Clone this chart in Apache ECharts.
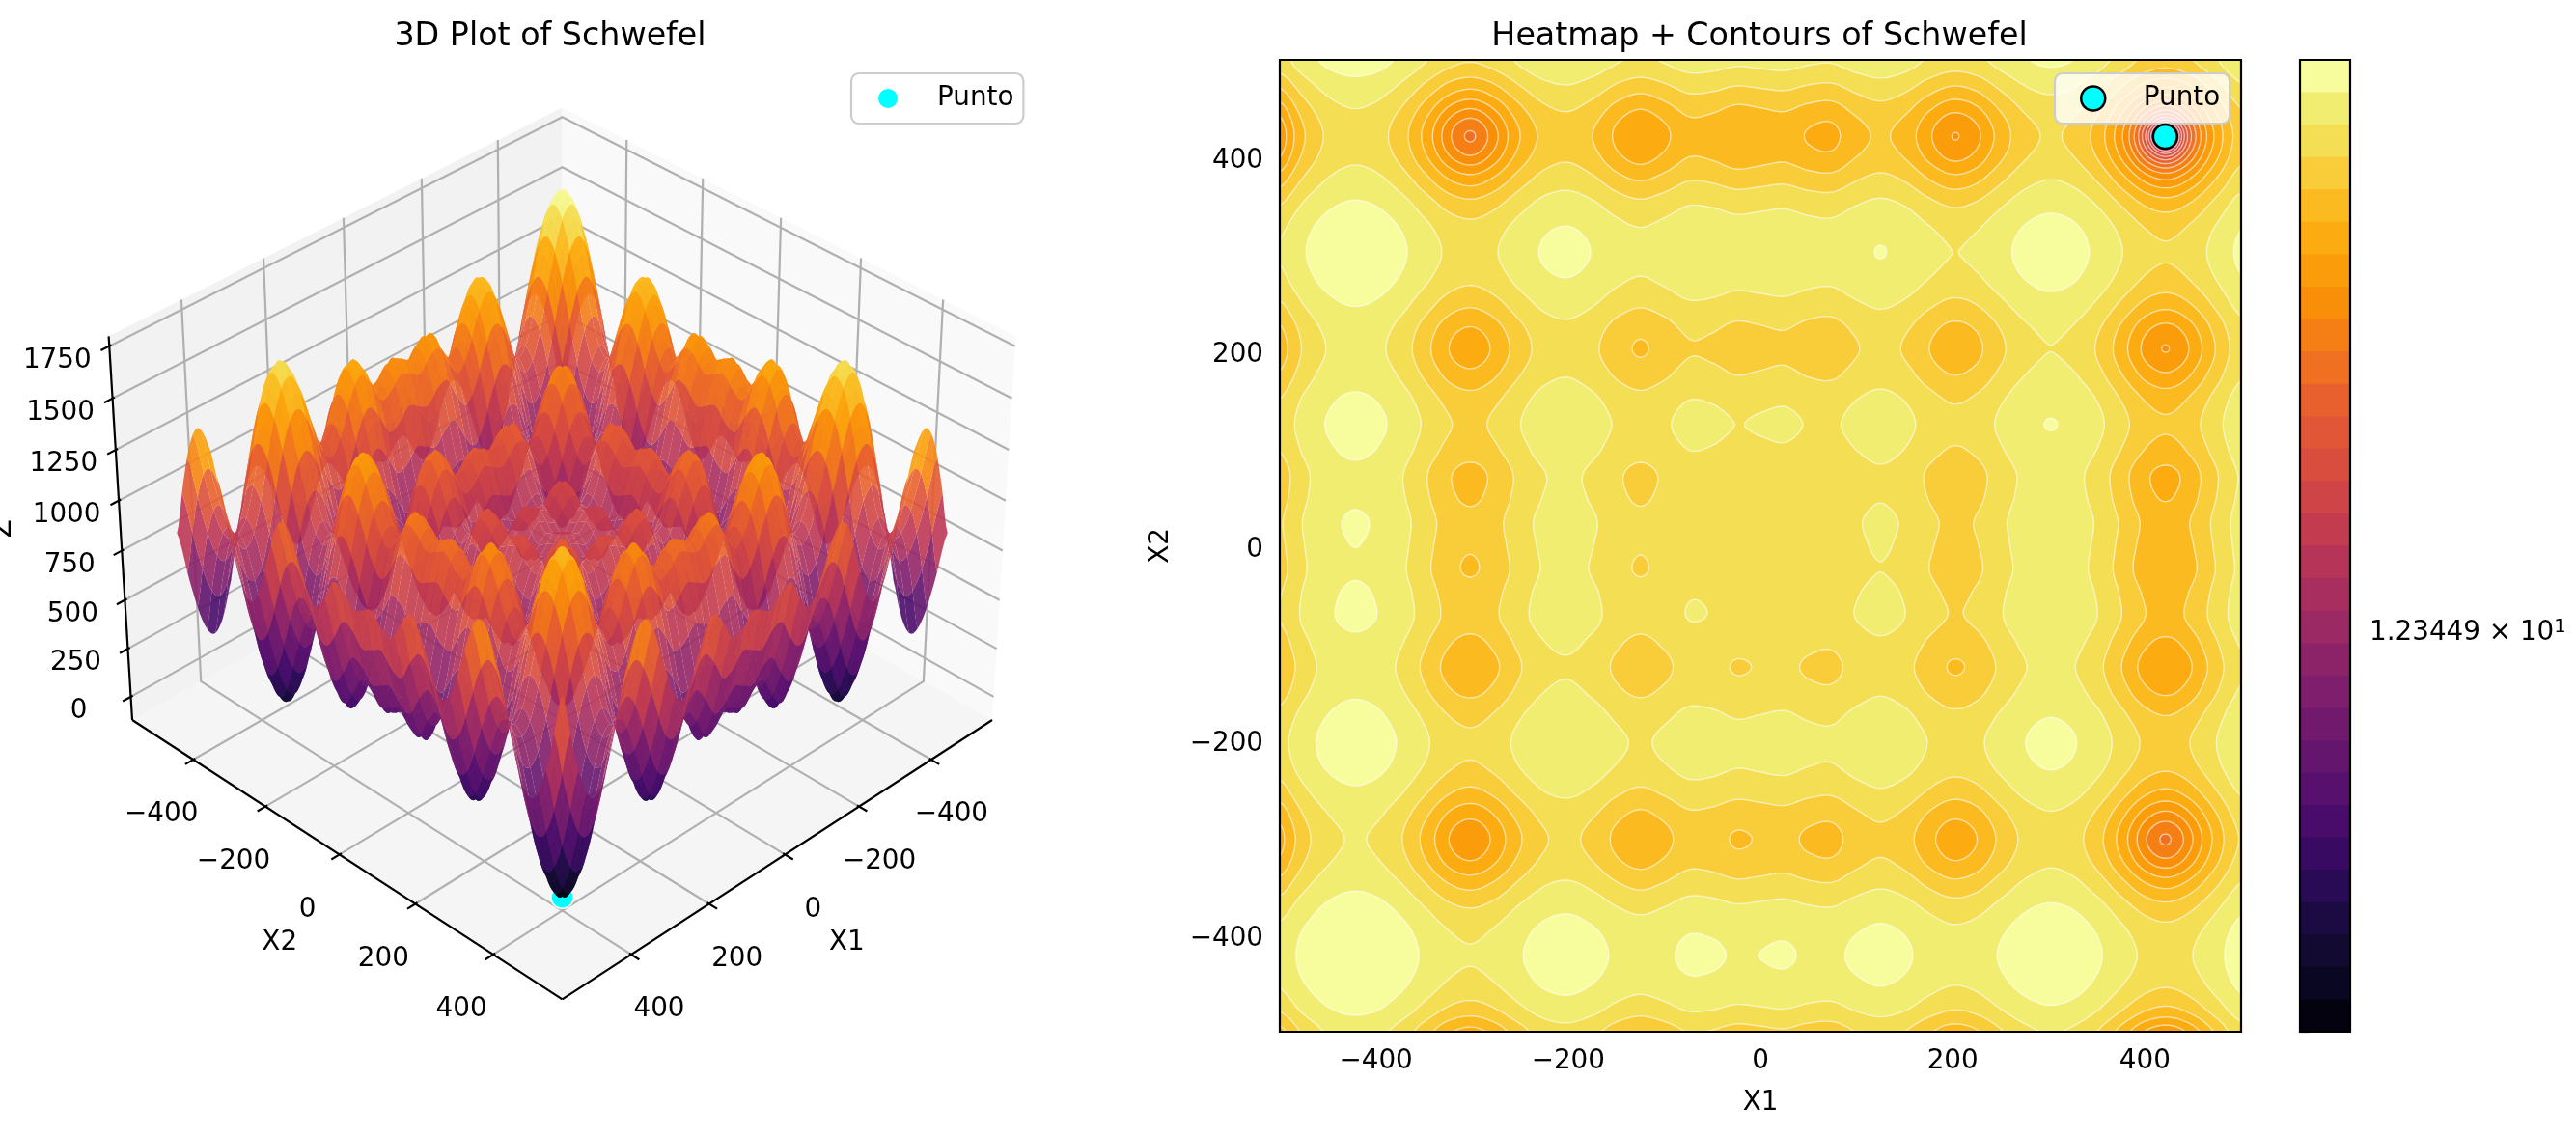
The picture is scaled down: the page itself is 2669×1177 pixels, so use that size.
<!doctype html><html><head><meta charset="utf-8">
<style>html,body{margin:0;background:#fff}#c{width:2669px;height:1177px}</style>
<script src="https://cdn.jsdelivr.net/npm/echarts@6/dist/echarts.min.js"></script></head><body><div id="c"></div><script>
const gridNodes=[-500,-475,-450,-425,-400,-375,-350,-325,-300,-275,-250,-225,-200,-175,-150,-125,-100,-75,-50,-25,0,25,50,75,100,125,150,175,200,225,250,275,300,325,350,375,400,425,450,475,500];
const surfaceRows=[
[476,750,973,1074,1022,842,608,419,357,446,631,803,857,765,610,534,603,709,692,633,657,681,622,605,711,780,704,549,457,511,683,868,957,895,706,472,292,240,341,564,838],
[750,1024,1247,1348,1296,1116,882,693,631,720,905,1077,1131,1039,884,808,877,983,966,907,931,955,896,879,985,1054,978,823,731,785,957,1142,1231,1169,980,746,566,514,615,838,1112],
[973,1247,1470,1571,1519,1339,1105,916,854,943,1128,1300,1354,1262,1107,1031,1100,1206,1189,1130,1154,1178,1119,1102,1208,1277,1201,1046,954,1008,1180,1365,1454,1392,1203,969,789,737,838,1061,1335],
[1074,1348,1571,1672,1620,1440,1206,1017,955,1044,1229,1401,1455,1363,1208,1132,1201,1307,1290,1231,1255,1279,1220,1203,1309,1378,1302,1147,1055,1109,1281,1466,1555,1493,1304,1070,890,838,939,1162,1436],
[1022,1296,1519,1620,1568,1388,1154,965,903,992,1177,1349,1403,1311,1156,1080,1149,1255,1238,1179,1203,1227,1168,1151,1257,1326,1250,1095,1003,1057,1229,1414,1503,1441,1252,1018,838,786,887,1110,1384],
[842,1116,1339,1440,1388,1208,974,785,723,812,997,1169,1223,1131,976,900,969,1075,1058,999,1023,1047,988,971,1077,1146,1070,915,823,877,1049,1234,1323,1261,1072,838,658,606,707,930,1204],
[608,882,1105,1206,1154,974,740,551,489,578,763,935,989,897,742,666,735,841,824,765,789,813,754,737,843,912,836,681,589,643,815,1000,1089,1027,838,604,424,372,473,696,970],
[419,693,916,1017,965,785,551,362,300,389,574,746,800,708,553,477,546,652,635,576,600,624,565,548,654,723,647,492,400,454,626,811,900,838,649,415,235,183,284,507,781],
[357,631,854,955,903,723,489,300,238,327,512,684,738,646,491,415,484,590,573,514,538,562,503,486,592,661,585,430,338,392,564,749,838,776,587,353,173,121,222,445,719],
[446,720,943,1044,992,812,578,389,327,416,601,773,827,735,580,504,573,679,662,603,627,651,592,575,681,750,674,519,427,481,653,838,927,865,676,442,262,210,311,534,808],
[631,905,1128,1229,1177,997,763,574,512,601,786,958,1012,920,765,689,758,864,847,788,812,836,777,760,866,935,859,704,612,666,838,1023,1112,1050,861,627,447,395,496,719,993],
[803,1077,1300,1401,1349,1169,935,746,684,773,958,1130,1184,1092,937,861,930,1036,1019,960,984,1008,949,932,1038,1107,1031,876,784,838,1010,1195,1284,1222,1033,799,619,567,668,891,1165],
[857,1131,1354,1455,1403,1223,989,800,738,827,1012,1184,1238,1146,991,915,984,1090,1073,1014,1038,1062,1003,986,1092,1161,1085,930,838,892,1064,1249,1338,1276,1087,853,673,621,722,945,1219],
[765,1039,1262,1363,1311,1131,897,708,646,735,920,1092,1146,1054,899,823,892,998,981,922,946,970,911,894,1000,1069,993,838,746,800,972,1157,1246,1184,995,761,581,529,630,853,1127],
[610,884,1107,1208,1156,976,742,553,491,580,765,937,991,899,744,668,737,843,826,767,791,815,756,739,845,914,838,683,591,645,817,1002,1091,1029,840,606,426,374,475,698,972],
[534,808,1031,1132,1080,900,666,477,415,504,689,861,915,823,668,592,661,767,750,691,715,739,680,663,769,838,762,607,515,569,741,926,1015,953,764,530,350,298,399,622,896],
[603,877,1100,1201,1149,969,735,546,484,573,758,930,984,892,737,661,730,836,819,760,784,808,749,732,838,907,831,676,584,638,810,995,1084,1022,833,599,419,367,468,691,965],
[709,983,1206,1307,1255,1075,841,652,590,679,864,1036,1090,998,843,767,836,942,925,866,890,914,855,838,944,1013,937,782,690,744,916,1101,1190,1128,939,705,525,473,574,797,1071],
[692,966,1189,1290,1238,1058,824,635,573,662,847,1019,1073,981,826,750,819,925,908,849,873,897,838,821,927,996,920,765,673,727,899,1084,1173,1111,922,688,508,456,557,780,1054],
[633,907,1130,1231,1179,999,765,576,514,603,788,960,1014,922,767,691,760,866,849,790,814,838,779,762,868,937,861,706,614,668,840,1025,1114,1052,863,629,449,397,498,721,995],
[657,931,1154,1255,1203,1023,789,600,538,627,812,984,1038,946,791,715,784,890,873,814,838,862,803,786,892,961,885,730,638,692,864,1049,1138,1076,887,653,473,421,522,745,1019],
[681,955,1178,1279,1227,1047,813,624,562,651,836,1008,1062,970,815,739,808,914,897,838,862,886,827,810,916,985,909,754,662,716,888,1073,1162,1100,911,677,497,445,546,769,1043],
[622,896,1119,1220,1168,988,754,565,503,592,777,949,1003,911,756,680,749,855,838,779,803,827,768,751,857,926,850,695,603,657,829,1014,1103,1041,852,618,438,386,487,710,984],
[605,879,1102,1203,1151,971,737,548,486,575,760,932,986,894,739,663,732,838,821,762,786,810,751,734,840,909,833,678,586,640,812,997,1086,1024,835,601,421,369,470,693,967],
[711,985,1208,1309,1257,1077,843,654,592,681,866,1038,1092,1000,845,769,838,944,927,868,892,916,857,840,946,1015,939,784,692,746,918,1103,1192,1130,941,707,527,475,576,799,1073],
[780,1054,1277,1378,1326,1146,912,723,661,750,935,1107,1161,1069,914,838,907,1013,996,937,961,985,926,909,1015,1084,1008,853,761,815,987,1172,1261,1199,1010,776,596,544,645,868,1142],
[704,978,1201,1302,1250,1070,836,647,585,674,859,1031,1085,993,838,762,831,937,920,861,885,909,850,833,939,1008,932,777,685,739,911,1096,1185,1123,934,700,520,468,569,792,1066],
[549,823,1046,1147,1095,915,681,492,430,519,704,876,930,838,683,607,676,782,765,706,730,754,695,678,784,853,777,622,530,584,756,941,1030,968,779,545,365,313,414,637,911],
[457,731,954,1055,1003,823,589,400,338,427,612,784,838,746,591,515,584,690,673,614,638,662,603,586,692,761,685,530,438,492,664,849,938,876,687,453,273,221,322,545,819],
[511,785,1008,1109,1057,877,643,454,392,481,666,838,892,800,645,569,638,744,727,668,692,716,657,640,746,815,739,584,492,546,718,903,992,930,741,507,327,275,376,599,873],
[683,957,1180,1281,1229,1049,815,626,564,653,838,1010,1064,972,817,741,810,916,899,840,864,888,829,812,918,987,911,756,664,718,890,1075,1164,1102,913,679,499,447,548,771,1045],
[868,1142,1365,1466,1414,1234,1000,811,749,838,1023,1195,1249,1157,1002,926,995,1101,1084,1025,1049,1073,1014,997,1103,1172,1096,941,849,903,1075,1260,1349,1287,1098,864,684,632,733,956,1230],
[957,1231,1454,1555,1503,1323,1089,900,838,927,1112,1284,1338,1246,1091,1015,1084,1190,1173,1114,1138,1162,1103,1086,1192,1261,1185,1030,938,992,1164,1349,1438,1376,1187,953,773,721,822,1045,1319],
[895,1169,1392,1493,1441,1261,1027,838,776,865,1050,1222,1276,1184,1029,953,1022,1128,1111,1052,1076,1100,1041,1024,1130,1199,1123,968,876,930,1102,1287,1376,1314,1125,891,711,659,760,983,1257],
[706,980,1203,1304,1252,1072,838,649,587,676,861,1033,1087,995,840,764,833,939,922,863,887,911,852,835,941,1010,934,779,687,741,913,1098,1187,1125,936,702,522,470,571,794,1068],
[472,746,969,1070,1018,838,604,415,353,442,627,799,853,761,606,530,599,705,688,629,653,677,618,601,707,776,700,545,453,507,679,864,953,891,702,468,288,236,337,560,834],
[292,566,789,890,838,658,424,235,173,262,447,619,673,581,426,350,419,525,508,449,473,497,438,421,527,596,520,365,273,327,499,684,773,711,522,288,108,56,157,380,654],
[240,514,737,838,786,606,372,183,121,210,395,567,621,529,374,298,367,473,456,397,421,445,386,369,475,544,468,313,221,275,447,632,721,659,470,236,56,4,105,328,602],
[341,615,838,939,887,707,473,284,222,311,496,668,722,630,475,399,468,574,557,498,522,546,487,470,576,645,569,414,322,376,548,733,822,760,571,337,157,105,206,429,703],
[564,838,1061,1162,1110,930,696,507,445,534,719,891,945,853,698,622,691,797,780,721,745,769,710,693,799,868,792,637,545,599,771,956,1045,983,794,560,380,328,429,652,926],
[838,1112,1335,1436,1384,1204,970,781,719,808,993,1165,1219,1127,972,896,965,1071,1054,995,1019,1043,984,967,1073,1142,1066,911,819,873,1045,1230,1319,1257,1068,834,654,602,703,926,1200]
];
const pointValue=[421,421,0];
const axisTicks=[-400,-200,0,200,400];
const zTicks=[0,250,500,750,1000,1250,1500,1750];
const colorbarTickBands=[0,3.1,6.2,9.3,12.41,15.5,18.6,21.7,24.8,27.9];
const colorbarLabelBand=12.41;
const colorRange=[0.281,1676];
const zRange=[0,1675];
const infernoStops=[[0,0,0,4],[.05,10,7,34],[.1,22,11,57],[.15,40,11,84],[.2,66,10,104],[.25,87,16,110],[.3,106,23,110],[.35,127,30,108],[.4,147,38,103],[.45,168,46,95],[.5,188,55,84],[.55,207,68,70],[.6,221,81,58],[.65,232,96,45],[.7,243,120,25],[.75,249,142,9],[.8,252,165,10],[.85,251,186,31],[.9,246,215,70],[.95,241,237,113],[.98,246,251,154],[1,252,255,164]];

const FONT='DejaVu Sans',TICK=27.8,TITLE=33.3,LW=2.2,BLACK='#000';
function inferno(t){t=Math.min(1,Math.max(0,t));let i=0;while(i<infernoStops.length-2&&t>infernoStops[i+1][0])i++;const a=infernoStops[i],b=infernoStops[i+1],f=(t-a[0])/(b[0]-a[0]);
 return 'rgb('+[1,2,3].map(k=>Math.round(a[k]+(b[k]-a[k])*f)).join(',')+')';}
function sampleSurface(n){
 const m=gridNodes.length-1,out=new Float64Array((n+1)*(n+1));
 const w=[];for(let i=0;i<=n;i++){const u=i*m/n,i0=Math.min(m-1,Math.floor(u)),t=u-i0,t2=t*t,t3=t2*t;
  w.push([i0,-.5*t+t2-.5*t3,1-2.5*t2+1.5*t3,.5*t+2*t2-1.5*t3,-.5*t2+.5*t3]);}
 const c=(k)=>Math.max(0,Math.min(m,k));
 const temp=[];
 for(let i=0;i<=n;i++){const a=w[i],col=new Float64Array(m+1);
  for(let r=0;r<=m;r++){const R=surfaceRows[r];col[r]=a[1]*R[c(a[0]-1)]+a[2]*R[c(a[0])]+a[3]*R[c(a[0]+1)]+a[4]*R[c(a[0]+2)];}
  temp.push(col);}
 for(let j=0;j<=n;j++){const b=w[j];for(let i=0;i<=n;i++){const C=temp[i];
  out[j*(n+1)+i]=b[1]*C[c(b[0]-1)]+b[2]*C[c(b[0])]+b[3]*C[c(b[0]+1)]+b[4]*C[c(b[0]+2)];}}
 return out;
}
function clip(poly,thr,sign){const out=[];for(let i=0;i<poly.length;i++){const a=poly[i],b=poly[(i+1)%poly.length],da=(a[2]-thr)*sign,db=(b[2]-thr)*sign;
  if(da>=0)out.push(a);if(da*db<0){const t=da/(da-db);out.push([a[0]+(b[0]-a[0])*t,a[1]+(b[1]-a[1])*t,thr]);}}return out;}
function polyPath(p){let s='M'+p[0][0].toFixed(1)+' '+p[0][1].toFixed(1);for(let i=1;i<p.length;i++)s+='L'+p[i][0].toFixed(1)+' '+p[i][1].toFixed(1);return s+'Z';}

const ELEV=35*Math.PI/180,AZIM=45*Math.PI/180,DIST=10;
const XL=[-550,550],ZL=[-84,1759],BOX=[1.1905,1.1905,.8929];
const W=[Math.cos(ELEV)*Math.cos(AZIM),Math.cos(ELEV)*Math.sin(AZIM),Math.sin(ELEV)];
const RT=[-Math.sin(AZIM),Math.cos(AZIM),0];
const UP=[-Math.sin(ELEV)*Math.cos(AZIM),-Math.sin(ELEV)*Math.sin(AZIM),Math.cos(ELEV)];
function viewOf(x,y,z){
 const a=(x-XL[0])/(XL[1]-XL[0])*BOX[0]-BOX[0]/2,b=(y-XL[0])/(XL[1]-XL[0])*BOX[1]-BOX[1]/2,c=(z-ZL[0])/(ZL[1]-ZL[0])*BOX[2]-BOX[2]/2;
 const d=a*W[0]+b*W[1]+c*W[2],h=DIST-d;
 return [(a*RT[0]+b*RT[1])/h,(a*UP[0]+b*UP[1]+c*UP[2])/h,d];
}
const project=(x,y,z)=>viewOf(x,y,z).slice(0,2);
const P=572.9,ZB=-122.4,ZT=1797;
function txt(s,x,y,size,extra){return Object.assign({type:'text',silent:true,style:{text:s,x:x,y:y,fontSize:size||TICK,fontFamily:FONT,fill:BLACK,align:'center',verticalAlign:'middle'}},extra||{});}
const tickText=v=>(v<0?'\u2212':'')+Math.abs(v);

function renderFrame(params,api){
 const pt=(x,y,z)=>api.coord(project(x,y,z));
 const ch=[];
 const pane=(pts,fill)=>ch.push({type:'polygon',silent:true,shape:{points:pts},style:{fill:fill}});
 pane([pt(P,P,ZB),pt(-P,P,ZB),pt(-P,-P,ZB),pt(P,-P,ZB)],'#f5f5f5');
 pane([pt(P,-P,ZB),pt(-P,-P,ZB),pt(-P,-P,ZT),pt(P,-P,ZT)],'#f2f2f2');
 pane([pt(-P,P,ZB),pt(-P,-P,ZB),pt(-P,-P,ZT),pt(-P,P,ZT)],'#f9f9f9');
 const line=(pts,color,w)=>ch.push({type:'polyline',silent:true,shape:{points:pts},style:{stroke:color,lineWidth:w,fill:null}});
 axisTicks.forEach(t=>{
  line([pt(t,P,ZB),pt(t,-P,ZB),pt(t,-P,ZT)],'#b0b0b0',LW);
  line([pt(P,t,ZB),pt(-P,t,ZB),pt(-P,t,ZT)],'#b0b0b0',LW);
 });
 zTicks.forEach(z=>line([pt(P,-P,z),pt(-P,-P,z),pt(-P,P,z)],'#b0b0b0',LW));
 line([pt(P,P,ZB),pt(-P,P,ZB)],BLACK,LW);
 line([pt(P,P,ZB),pt(P,-P,ZB)],BLACK,LW);
 line([pt(P,-P,ZB),pt(P,-P,ZT)],BLACK,LW);
 axisTicks.forEach(t=>{
  line([pt(t,P-5,ZB),pt(t,P+20,ZB)],BLACK,LW);
  line([pt(P-5,t,ZB),pt(P+20,t,ZB)],BLACK,LW);
  const a=pt(t,P,ZB),b=pt(P,t,ZB);
  ch.push(txt(tickText(t),a[0]+(t<0?21:29),a[1]+57));
  ch.push(txt(tickText(t),b[0]-33,b[1]+57));
 });
 zTicks.forEach(z=>{
  line([pt(P-5,-P,z),pt(P+20,-P,z)],BLACK,LW);
  const a=pt(P,-P,z);
  ch.push(txt(String(z),a[0]-54,a[1]+15));
 });
 const l1=pt(0,P,ZB),l2=pt(P,0,ZB),l3=pt(P,-P,875);
 ch.push(txt('X1',l1[0]+64,l1[1]+91));
 ch.push(txt('X2',l2[0]-62,l2[1]+91));
 ch.push({type:'text',silent:true,x:l3[0]-121,y:l3[1]+3,rotation:Math.PI/2,style:{text:'Z',fontSize:TICK,fontFamily:FONT,fill:BLACK,align:'center',verticalAlign:'middle'}});
 return {type:'group',children:ch};
}

const SN=200,FACETS=50,SURF_ALPHA=.9;
const surfFine=sampleSurface(SN);
function renderSurface(params,api){
 const n=SN,s=n/FACETS,facets=[];
 const node=(i,j)=>[-500+1000*i/n,-500+1000*j/n,surfFine[j*(n+1)+i]];
 for(let fj=0;fj<FACETS;fj++)for(let fi=0;fi<FACETS;fi++){
  const i0=fi*s,j0=fj*s,per=[];
  for(let k=0;k<s;k++)per.push(node(i0+k,j0));
  for(let k=0;k<s;k++)per.push(node(i0+s,j0+k));
  for(let k=0;k<s;k++)per.push(node(i0+s-k,j0+s));
  for(let k=0;k<s;k++)per.push(node(i0,j0+s-k));
  let zs=0,ds=0;const pts=per.map(p=>{const v=viewOf(p[0],p[1],p[2]);zs+=p[2];ds+=v[2];return api.coord([v[0],v[1]]);});
  facets.push({pts:pts,z:zs/per.length,d:ds/per.length});
 }
 facets.sort((a,b)=>a.d-b.d);
 return {type:'group',children:facets.map(f=>({type:'polygon',silent:true,shape:{points:f.pts},style:{fill:inferno((f.z-zRange[0])/(zRange[1]-zRange[0])),opacity:SURF_ALPHA}}))};
}

const HN=400,BANDS=30;
const LOGLO=Math.log10(colorRange[0]),LOGHI=Math.log10(colorRange[1]);
const levels=[];for(let k=0;k<=BANDS;k++)levels.push(Math.pow(10,LOGLO+(LOGHI-LOGLO)*k/BANDS));
const heatFine=sampleSurface(HN);
function renderHeat(params,api){
 const n=HN,X=[],Y=[];
 for(let i=0;i<=n;i++){X.push(api.coord([-500+1000*i/n,0])[0]);Y.push(api.coord([0,-500+1000*i/n])[1]);}
 const paths=[];for(let k=0;k<BANDS;k++)paths.push([]);
 const lo=k=>k<=0?-1e9:levels[k],hi=k=>k+2>=BANDS?1e9:levels[k+2];
 const contour=[];const V=(i,j)=>heatFine[j*(n+1)+i];
 const rect=(k,i0,i1,j)=>paths[k].push('M'+X[i0].toFixed(1)+' '+Y[j].toFixed(1)+'L'+X[i1].toFixed(1)+' '+Y[j].toFixed(1)+'L'+X[i1].toFixed(1)+' '+Y[j+1].toFixed(1)+'L'+X[i0].toFixed(1)+' '+Y[j+1].toFixed(1)+'Z');
 for(let j=0;j<n;j++){
  const run=new Int32Array(BANDS).fill(-1);
  for(let i=0;i<n;i++){
   const a=V(i,j),b=V(i+1,j),c=V(i+1,j+1),d=V(i,j+1);
   const mn=Math.min(a,b,c,d),mx=Math.max(a,b,c,d);
   const q=[[X[i],Y[j],a],[X[i+1],Y[j],b],[X[i+1],Y[j+1],c],[X[i],Y[j+1],d]];
   for(let k=0;k<BANDS;k++){
    const L=lo(k),H=hi(k);
    if(mn>=L&&mx<=H){if(run[k]<0)run[k]=i;}
    else{
     if(run[k]>=0){rect(k,run[k],i,j);run[k]=-1;}
     if(mx>L&&mn<H){let p=q;if(mn<L)p=clip(p,L,1);if(p.length>2&&mx>H)p=clip(p,H,-1);if(p.length>2)paths[k].push(polyPath(p));}
    }
   }
   for(let k=1;k<BANDS;k++){const L=levels[k];if(mn<L&&mx>L){
     const pts=[];const e=(ax,ay,av,bx,by,bv)=>{if((av<L)!==(bv<L)){const t=(L-av)/(bv-av);pts.push((ax+(bx-ax)*t).toFixed(1)+' '+(ay+(by-ay)*t).toFixed(1));}};
     e(X[i],Y[j],a,X[i+1],Y[j],b);e(X[i+1],Y[j],b,X[i+1],Y[j+1],c);e(X[i+1],Y[j+1],c,X[i],Y[j+1],d);e(X[i],Y[j+1],d,X[i],Y[j],a);
     for(let s=0;s+1<pts.length;s+=2)contour.push('M'+pts[s]+'L'+pts[s+1]);
   }}
  }
  for(let k=0;k<BANDS;k++)if(run[k]>=0)rect(k,run[k],n,j);
 }
 const ch=[];
 for(let k=0;k<BANDS;k++)if(paths[k].length)ch.push({type:'path',silent:true,shape:{pathData:paths[k].join('')},style:{fill:inferno((k+.5)/BANDS)}});
 ch.push({type:'path',silent:true,shape:{pathData:contour.join('')},style:{fill:null,stroke:'rgba(255,255,255,.6)',lineWidth:1.4}});
 const tl=api.coord([-500,500]),br=api.coord([500,-500]);
 ch.push({type:'rect',silent:true,shape:{x:tl[0],y:tl[1],width:br[0]-tl[0],height:br[1]-tl[1]},style:{fill:null,stroke:BLACK,lineWidth:LW}});
 return {type:'group',children:ch};
}
function renderBar(params,api){
 const ch=[];
 for(let k=0;k<BANDS;k++){const a=api.coord([0,k]),b=api.coord([1,BANDS]);
  ch.push({type:'rect',silent:true,shape:{x:a[0],y:b[1],width:b[0]-a[0],height:a[1]-b[1]},style:{fill:inferno((k+.5)/BANDS)}});}
 const tl=api.coord([0,BANDS]),br=api.coord([1,0]);
 ch.push({type:'rect',silent:true,shape:{x:tl[0],y:tl[1],width:br[0]-tl[0],height:br[1]-tl[1]},style:{fill:null,stroke:BLACK,lineWidth:LW}});
 return {type:'group',children:ch};
}
const hidden=(i,lim)=>({type:'value',gridIndex:i,min:lim[0],max:lim[1],show:false});
const heatAxis=(name,gap,rot,topPad)=>({type:'value',gridIndex:1,min:-500,max:500,name:name,nameLocation:'middle',nameGap:gap,nameRotate:rot,
 nameTextStyle:{fontSize:TICK,fontFamily:FONT,color:BLACK},
 axisLine:{show:false},splitLine:{show:false},
 axisTick:{show:true,length:9.7,lineStyle:{color:BLACK,width:LW},customValues:axisTicks},
 axisLabel:{show:true,customValues:axisTicks,margin:17,formatter:v=>'{a|'+tickText(v)+'}',
  rich:{a:{fontSize:TICK,fontFamily:FONT,color:BLACK,padding:[topPad,0,0,0]}}}});
const punto=(legendLeft,pad,iw,size,border,width,text)=>({left:legendLeft,top:76,orient:'horizontal',selectedMode:false,data:['Punto'],
 padding:[12,10,12,pad],itemWidth:iw,itemHeight:size,backgroundColor:'rgba(255,255,255,.8)',borderColor:'#ccc',borderWidth:LW,borderRadius:8,
 icon:'circle',itemStyle:{color:'#00ffff',borderColor:border,borderWidth:width},textStyle:{fontSize:TICK,fontFamily:FONT,color:BLACK,padding:[0,0,0,text]}});
const option={
 animation:false,backgroundColor:'#fff',textStyle:{fontFamily:FONT},
 title:[
  {text:'3D Plot of Schwefel',left:565,top:17,textAlign:'center',textStyle:{fontSize:TITLE,fontWeight:'normal',fontFamily:FONT,color:BLACK}},
  {text:'Heatmap + Contours of Schwefel',left:1818,top:17,textAlign:'center',textStyle:{fontSize:TITLE,fontWeight:'normal',fontFamily:FONT,color:BLACK}}],
 legend:[punto(882,28,52,20,'#00ffff',0,20),punto(2129,26,56,25,BLACK,2.5,19)],
 grid:[{left:87,top:83,width:965,height:965},{left:1326,top:62,width:996,height:1007},{left:2383,top:62,width:52,height:1007}],
 xAxis:[hidden(0,[-.095,.09]),heatAxis('X1',60,0,0),hidden(2,[0,1])],
 yAxis:[hidden(0,[-.095,.09]),heatAxis('X2',109,90,8),
  {type:'value',gridIndex:2,position:'right',min:0,max:BANDS,axisLine:{show:false},splitLine:{show:false},
   axisTick:{show:true,length:9.7,lineStyle:{color:BLACK,width:LW},customValues:colorbarTickBands},
   axisLabel:{show:true,customValues:[colorbarLabelBand],margin:20,padding:[6,0,0,0],formatter:()=>'{m|1.23449 \u00d7 10}{s|1}',
    rich:{m:{fontSize:TICK,fontFamily:FONT,color:BLACK},s:{fontSize:19.5,fontFamily:FONT,color:BLACK,verticalAlign:'top',padding:[0,0,12,0]}}}}],
 series:[
  {type:'custom',name:'frame',xAxisIndex:0,yAxisIndex:0,z:1,clip:false,silent:true,data:[[0,0]],renderItem:renderFrame},
  {type:'scatter',name:'Punto',xAxisIndex:0,yAxisIndex:0,z:2,symbolSize:23,silent:true,itemStyle:{color:'#00ffff',borderColor:'#fff',borderWidth:1.5,opacity:1},data:[project(pointValue[0],pointValue[1],pointValue[2])]},
  {type:'custom',name:'surface',xAxisIndex:0,yAxisIndex:0,z:3,clip:false,silent:true,data:[[0,0]],renderItem:renderSurface},
  {type:'custom',name:'heat',xAxisIndex:1,yAxisIndex:1,z:1,clip:false,silent:true,data:[[0,0]],renderItem:renderHeat},
  {type:'scatter',name:'Punto',xAxisIndex:1,yAxisIndex:1,z:4,symbolSize:25,silent:true,itemStyle:{color:'#00ffff',borderColor:BLACK,borderWidth:2.5,opacity:1},data:[[pointValue[0],pointValue[1]]]},
  {type:'custom',name:'bar',xAxisIndex:2,yAxisIndex:2,z:1,clip:false,silent:true,data:[[0,0]],renderItem:renderBar}
 ]
};
const chart=echarts.init(document.getElementById('c'),null,{renderer:'canvas',width:2669,height:1177});
chart.setOption(option);
</script></body></html>
